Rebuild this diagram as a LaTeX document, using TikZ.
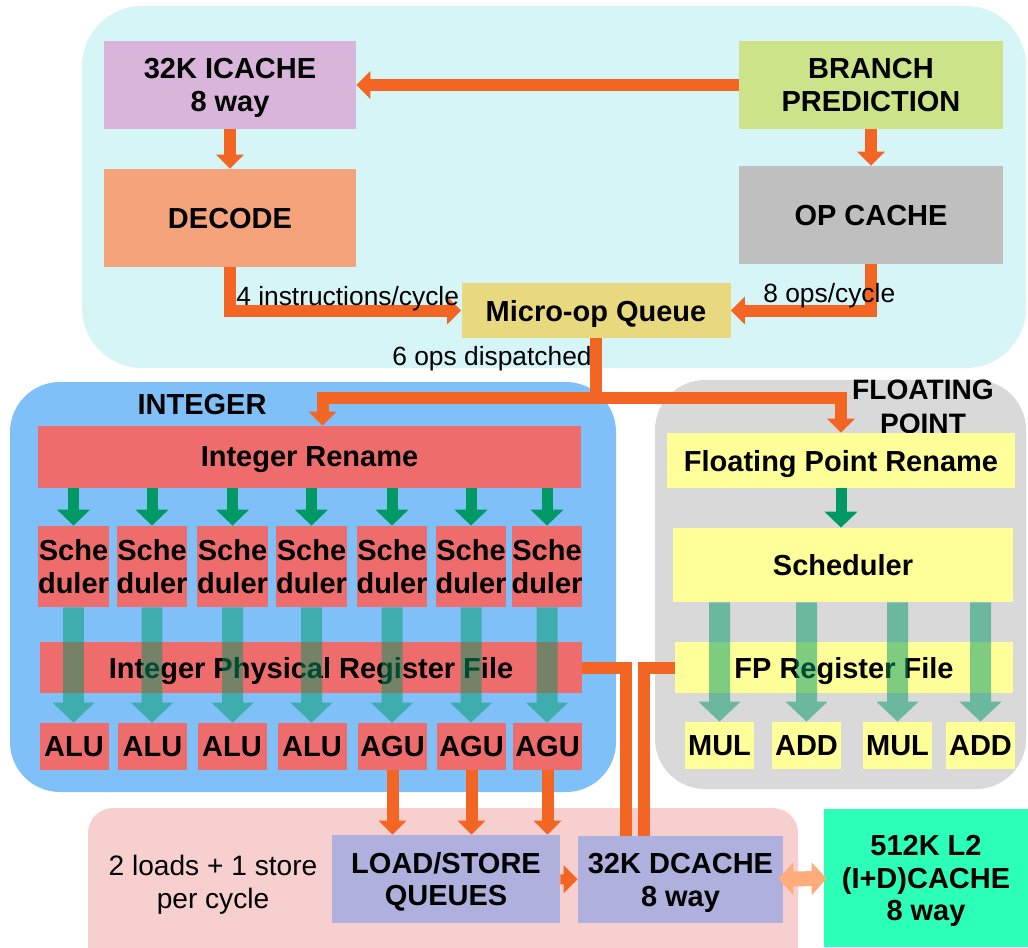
\documentclass[tikz,border=0pt]{standalone}
\usepackage{fontspec}
\setmainfont{Liberation Sans}
\usetikzlibrary{arrows.meta, calc}
\definecolor{topbg}{RGB}{214,245,247}
\definecolor{icachec}{RGB}{217,181,220}
\definecolor{branchc}{RGB}{204,227,138}
\definecolor{decodec}{RGB}{244,163,122}
\definecolor{opc}{RGB}{191,191,191}
\definecolor{queuec}{RGB}{233,217,126}
\definecolor{orangec}{RGB}{243,101,35}
\definecolor{intbg}{RGB}{128,192,248}
\definecolor{intred}{RGB}{238,108,108}
\definecolor{greenc}{RGB}{0,153,102}
\definecolor{fpbg}{RGB}{217,217,217}
\definecolor{fpyel}{RGB}{255,255,153}
\definecolor{lsbg}{RGB}{247,207,207}
\definecolor{lsbox}{RGB}{175,176,221}
\definecolor{l2c}{RGB}{44,255,184}
\definecolor{busc}{RGB}{255,172,122}

\begin{document}
\begin{tikzpicture}[x=0.02cm, y=-0.02cm,
  wh/.style 2 args={minimum width=#1*0.02cm, minimum height=#2*0.02cm},
  blk/.style={inner sep=0pt, align=center, text depth=0pt, font=\bfseries\fontsize{16.5}{18.7}\selectfont},
  lbl/.style={inner sep=0pt, font=\fontsize{15}{18}\selectfont},
  oline/.style={draw=orangec, line width=0.24cm},
  oarr/.style={oline, -{Triangle[width=0.54cm,length=0.28cm]}},
  garr/.style={draw=greenc, line width=0.22cm, -{Triangle[width=0.64cm,length=0.32cm]}},
  tarr/.style={draw=greenc, line width=0.42cm, -{Triangle[width=0.82cm,length=0.4cm]}},
  darr/.style={draw=busc, line width=0.3cm, {Triangle[width=0.64cm,length=0.3cm]}-{Triangle[width=0.64cm,length=0.3cm]}}]
  \useasboundingbox (0,0) rectangle (1028,947);

  % panels
  \fill[topbg, rounded corners=1.2cm] (82,6) rectangle (1026,368);
  \fill[intbg, rounded corners=1cm] (10,382) rectangle (616,792);
  \fill[fpbg, rounded corners=1cm] (655,380) rectangle (1026,789);
  \fill[lsbg, rounded corners=0.5cm] (88,808) rectangle (798,990);

  % front end
  \node[blk, wh={252}{88}, fill=icachec] (icache) at (230,85) {32K ICACHE\\8 way};
  \node[blk, wh={264}{88}, fill=branchc] (branch) at (871,85) {BRANCH\\PREDICTION};
  \node[blk, wh={252}{98}, fill=decodec] (decode) at (230,218) {DECODE};
  \node[blk, wh={264}{98}, fill=opc] (opcache) at (871,215) {OP CACHE};
  \node[blk, wh={269}{55}, fill=queuec] (queue) at (596,310.5) {Micro-op Queue};

  \draw[oarr] (branch) -- (icache);
  \draw[oarr] (icache) -- (decode);
  \draw[oarr] (branch) -- (opcache);
  \draw[oarr] (decode.south) |- (queue.west);
  \draw[oarr] (opcache.south) |- (queue.east);

  \node[lbl, anchor=base west] (instlbl) at (236,305) {4 instructions/cycle};
  \node[lbl, anchor=base west] (opslbl) at (763,302) {8 ops/cycle};
  \node[lbl, anchor=base west] (displbl) at (392,365) {6 ops dispatched};

  % integer side
  \node[blk, anchor=base] (intlbl) at (202,414) {INTEGER};
  \node[blk, wh={543}{62}, fill=intred] (irename) at (309.5,457) {Integer Rename};
  \foreach \i/\x in {1/73.5,2/152,3/232.5,4/311.5,5/392,6/471,7/547}
    \node[blk, wh={70}{81}, fill=intred] (isch\i) at (\x,566.5) {Sche\\duler};
  \node[blk, wh={542}{51}, fill=intred] (ireg) at (311,667.5) {Integer Physical Register File};
  \foreach \i/\x/\t in {1/74/ALU,2/152.5/ALU,3/232/ALU,4/312/ALU,5/392.5/AGU,6/471.5/AGU,7/547.5/AGU}
    \node[blk, wh={69}{47}, fill=intred] (iu\i) at (\x,746.5) {\t};

  % floating point side
  \node[blk, anchor=north, font=\bfseries\fontsize{16}{19.3}\selectfont] (fplbl) at (923,380) {FLOATING\\POINT};
  \node[blk, wh={348}{55}, fill=fpyel] (fpren) at (841,460.5) {Floating Point Rename};
  \node[blk, wh={340}{74}, fill=fpyel] (fpsch) at (843,565) {Scheduler};
  \node[blk, wh={338}{51}, fill=fpyel] (fpreg) at (844,667.5) {FP Register File};
  \foreach \i/\x/\t in {1/719.5/MUL,2/806.5/ADD,3/897.5/MUL,4/980.5/ADD}
    \node[blk, wh={69}{47}, fill=fpyel] (fu\i) at (\x,745.5) {\t};

  % dispatch
  \coordinate (split) at (596,398);
  \draw[oline] (queue.south) -- (split);
  \draw[oarr] (split) -| ($(irename.north)+(13,0)$);
  \draw[oarr] (split) -| (fpren.north);

  % rename -> schedulers -> units
  \foreach \i in {1,...,7}
    \draw[garr] (irename.south -| isch\i) -- (isch\i.north);
  \draw[garr] (fpren.south) -- (fpren.south |- fpsch.north);
  \begin{scope}[transparency group, opacity=0.5]
    \foreach \i in {1,...,7}
      \draw[tarr] (isch\i.south) -- (isch\i.south |- iu\i.north);
    \foreach \i in {1,...,4}
      \draw[tarr] (fpsch.south -| fu\i) -- (fu\i.north);
  \end{scope}

  % load/store
  \node[lbl, align=center, font=\fontsize{16}{18.7}\selectfont] (lsnote) at (213,885) {2 loads + 1 store\\per cycle};
  \node[blk, wh={228}{88}, fill=lsbox] (lsq) at (446,879) {LOAD/STORE\\QUEUES};
  \node[blk, wh={205}{87}, fill=lsbox] (dcache) at (680.5,879.5) {32K DCACHE\\8 way};
  \node[blk, wh={204}{138}, fill=l2c] (l2) at (926,878) {512K L2\\(I+D)CACHE\\8 way};

  \foreach \i in {5,6,7}
    \draw[oarr] (iu\i.south) -- (iu\i.south |- lsq.north);
  \draw[oarr, line width=0.2cm] (lsq) -- (dcache);
  \draw[darr, shorten <=-0.1cm, shorten >=-0.06cm] (dcache) -- (l2);
  \draw[oline] (ireg.east) -| ($(dcache.north)+(-55,0)$);
  \draw[oline] (fpreg.west) -| ($(dcache.north)+(-37,0)$);
\end{tikzpicture}
\end{document}
